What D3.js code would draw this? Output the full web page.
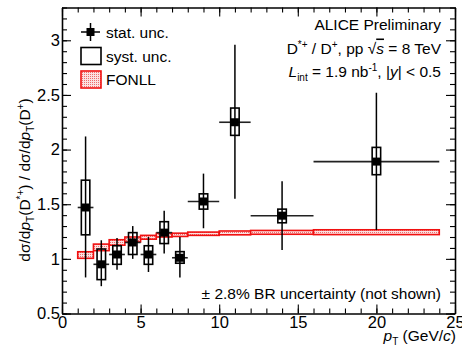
<!DOCTYPE html>
<html>
<head>
<meta charset="utf-8">
<script src="https://cdn.jsdelivr.net/npm/d3@7"></script>
<style>
  body { margin: 0; background: #fff; }
  svg { font-family: "Liberation Sans", Arial, sans-serif; }
  .axis path { stroke: #000; stroke-width: 1.6; }
  .axis line { stroke: #000; stroke-width: 1.1; }
  .axis text { font-size: 16.5px; fill: #000; }
</style>
</head>
<body>
<div id="chart"></div>
<script>
// pT bins (GeV/c)
const binLo = [1, 2, 3, 4, 5, 6, 7, 8, 10, 12, 16];
const binHi = [2, 3, 4, 5, 6, 7, 8, 10, 12, 16, 24];
// D*+/D+ ratio with stat and syst limits
const ratio  = [1.47, 0.95, 1.04, 1.15, 1.04, 1.24, 1.01, 1.525, 2.25, 1.395, 1.89];
const statLo = [0.83, 0.75, 0.90, 1.00, 0.88, 1.05, 0.83, 1.28, 1.55, 1.08, 1.265];
const statHi = [2.12, 1.17, 1.19, 1.30, 1.20, 1.44, 1.20, 1.78, 2.96, 1.71, 2.52];
const systLo = [1.22, 0.81, 0.95, 1.04, 0.95, 1.14, 0.96, 1.455, 2.13, 1.33, 1.77];
const systHi = [1.72, 1.09, 1.12, 1.24, 1.12, 1.34, 1.066, 1.595, 2.38, 1.455, 2.02];
// FONLL band
const fonllLo = [1.005, 1.075, 1.125, 1.155, 1.18, 1.20, 1.205, 1.215, 1.22, 1.225, 1.222];
const fonllHi = [1.065, 1.135, 1.175, 1.20, 1.215, 1.235, 1.235, 1.245, 1.255, 1.26, 1.266];

const xTicks = [0, 5, 10, 15, 20, 25];
const yTicks = [0.5, 1, 1.5, 2, 2.5, 3];
const legendItems = ["stat. unc.", "syst. unc.", "FONLL"];

const W = 462, H = 348;
const pLeft = 62, pRight = 455, pTop = 7.5, pBottom = 313.5;

const svg = d3.select("#chart").append("svg")
    .attr("width", W).attr("height", H);

const defs = svg.append("defs");
const pat = defs.append("pattern")
    .attr("id", "dots")
    .attr("width", 2).attr("height", 2)
    .attr("patternUnits", "userSpaceOnUse");
pat.append("rect").attr("width", 2).attr("height", 2).attr("fill", "#fbe0e0");
pat.append("rect").attr("width", 1).attr("height", 1).attr("fill", "#ee6b6b");

const x = d3.scaleLinear().domain([0, 25]).range([pLeft, pRight]);
const y = d3.scaleLinear().domain([0.5, 3.3]).range([pBottom, pTop]);

const idx = d3.range(ratio.length);
const halfBox = 0.27;

// FONLL band
svg.append("g").selectAll("rect")
    .data(idx).join("rect")
    .attr("x", i => x(binLo[i]))
    .attr("y", i => y(fonllHi[i]))
    .attr("width", i => x(binHi[i]) - x(binLo[i]))
    .attr("height", i => y(fonllLo[i]) - y(fonllHi[i]))
    .attr("fill", "url(#dots)")
    .attr("stroke", "#f01010")
    .attr("stroke-width", 1.6);

// stat error bars
const pts = svg.append("g");
pts.selectAll(".v").data(idx).join("line")
    .attr("class", "v")
    .attr("x1", i => x((binLo[i] + binHi[i]) / 2))
    .attr("x2", i => x((binLo[i] + binHi[i]) / 2))
    .attr("y1", i => y(statLo[i]))
    .attr("y2", i => y(statHi[i]))
    .attr("stroke", "#000").attr("stroke-width", 1.5);
pts.selectAll(".h").data(idx).join("line")
    .attr("class", "h")
    .attr("x1", i => x(binLo[i]))
    .attr("x2", i => x(binHi[i]))
    .attr("y1", i => y(ratio[i]))
    .attr("y2", i => y(ratio[i]))
    .attr("stroke", "#222").attr("stroke-width", 1.6);

// syst boxes
pts.selectAll(".b").data(idx).join("rect")
    .attr("class", "b")
    .attr("x", i => x((binLo[i] + binHi[i]) / 2 - halfBox))
    .attr("width", x(2 * halfBox) - x(0))
    .attr("y", i => y(systHi[i]))
    .attr("height", i => y(systLo[i]) - y(systHi[i]))
    .attr("fill", "none")
    .attr("stroke", "#000").attr("stroke-width", 1.6);

// markers
pts.selectAll(".m").data(idx).join("rect")
    .attr("class", "m")
    .attr("x", i => x((binLo[i] + binHi[i]) / 2) - 4)
    .attr("y", i => y(ratio[i]) - 4)
    .attr("width", 8).attr("height", 8)
    .attr("fill", "#000");

// axes: major + minor, inward ticks on all four sides
function addAxis(axisFn, scale, transform, major, minor, labels) {
    const g = svg.append("g").attr("class", "axis").attr("transform", transform);
    g.call(axisFn(scale).tickValues(minor).tickSize(-5).tickFormat(""));
    g.select(".domain").remove();
    const g2 = svg.append("g").attr("class", "axis").attr("transform", transform);
    g2.call(axisFn(scale).tickValues(major).tickSize(-9).tickSizeOuter(0)
        .tickPadding(3)
        .tickFormat(labels ? d3.format("") : ""));
    return g2;
}
const xMinor = d3.range(0, 26, 1);
const yMinor = d3.range(0.5, 3.31, 0.1).map(v => +v.toFixed(1));
const gx = addAxis(d3.axisBottom, x, `translate(0,${pBottom})`, xTicks, xMinor, true);
gx.selectAll("text").attr("dy", "0.7em");
addAxis(d3.axisTop, x, `translate(0,${pTop})`, xTicks, xMinor, false);
const gy = addAxis(d3.axisLeft, y, `translate(${pLeft},0)`, yTicks, yMinor, true);
gy.selectAll("text").attr("dx", "1px");
addAxis(d3.axisRight, y, `translate(${pRight},0)`, yTicks, yMinor, false);

// x title
const xt = svg.append("text")
    .attr("x", 456).attr("y", 341)
    .attr("text-anchor", "end")
    .attr("font-size", 15.5);
xt.append("tspan").attr("font-style", "italic").text("p");
xt.append("tspan").attr("font-size", 10).attr("dy", 4).text("T");
xt.append("tspan").attr("dy", -4).text(" (GeV/");
xt.append("tspan").attr("font-style", "italic").text("c");
xt.append("tspan").text(")");

// y title
const yt = svg.append("text")
    .attr("transform", "translate(30,180) rotate(-90)")
    .attr("text-anchor", "middle")
    .attr("font-size", 15.5);
function ptPart(t) {
    t.append("tspan").text("dσ/d");
    t.append("tspan").attr("font-style", "italic").text("p");
    t.append("tspan").attr("font-size", 10).attr("dy", 4).text("T");
    t.append("tspan").attr("dy", -4).text("(D");
}
ptPart(yt);
yt.append("tspan").attr("font-size", 10).attr("dy", -6).text("*+");
yt.append("tspan").attr("dy", 6).text(") / ");
ptPart(yt);
yt.append("tspan").attr("font-size", 10).attr("dy", -6).text("+");
yt.append("tspan").attr("dy", 6).text(")");

// legend
const lg = svg.append("g");
const lgY = [32, 56, 79.5];
lg.append("line").attr("x1", 81).attr("x2", 100).attr("y1", lgY[0]).attr("y2", lgY[0])
    .attr("stroke", "#000").attr("stroke-width", 1.5);
lg.append("line").attr("x1", 90.5).attr("x2", 90.5).attr("y1", lgY[0] - 9).attr("y2", lgY[0] + 9)
    .attr("stroke", "#000").attr("stroke-width", 1.5);
lg.append("rect").attr("x", 86.5).attr("y", lgY[0] - 4).attr("width", 8).attr("height", 8).attr("fill", "#000");
lg.append("rect").attr("x", 81).attr("y", lgY[1] - 8.5).attr("width", 20).attr("height", 17)
    .attr("fill", "none").attr("stroke", "#000").attr("stroke-width", 1.6);
lg.append("rect").attr("x", 81).attr("y", lgY[2] - 8.5).attr("width", 20).attr("height", 17)
    .attr("fill", "url(#dots)").attr("stroke", "#f01010").attr("stroke-width", 1.6);
lg.selectAll("text").data(legendItems).join("text")
    .attr("x", 106).attr("y", (d, i) => lgY[i] + 5.5)
    .attr("font-size", 15.5)
    .text(d => d);

// header text
const hx = 441;
svg.append("text").attr("x", hx).attr("y", 29.5).attr("text-anchor", "end")
    .attr("font-size", 15.5).text("ALICE Preliminary");
const t2 = svg.append("text").attr("x", hx).attr("y", 53.5).attr("text-anchor", "end")
    .attr("font-size", 15.5);
t2.append("tspan").text("D");
t2.append("tspan").attr("font-size", 10).attr("dy", -6).text("*+");
t2.append("tspan").attr("dy", 6).text(" / D");
t2.append("tspan").attr("font-size", 10).attr("dy", -6).text("+");
t2.append("tspan").attr("dy", 6).text(", pp ");
t2.append("tspan").text("√");
t2.append("tspan").attr("font-style", "italic").attr("text-decoration", "overline").text("s");
t2.append("tspan").text(" = 8 TeV");
const t3 = svg.append("text").attr("x", hx).attr("y", 77).attr("text-anchor", "end")
    .attr("font-size", 15.5);
t3.append("tspan").attr("font-style", "italic").text("L");
t3.append("tspan").attr("font-size", 10).attr("dy", 4).text("int");
t3.append("tspan").attr("dy", -4).text(" = 1.9 nb");
t3.append("tspan").attr("font-size", 10).attr("dy", -6).text("-1");
t3.append("tspan").attr("dy", 6).text(", |");
t3.append("tspan").attr("font-style", "italic").text("y");
t3.append("tspan").text("| < 0.5");

svg.append("text").attr("x", 441).attr("y", 298.5).attr("text-anchor", "end")
    .attr("font-size", 15.5).text("± 2.8% BR uncertainty (not shown)");
</script>
</body>
</html>
